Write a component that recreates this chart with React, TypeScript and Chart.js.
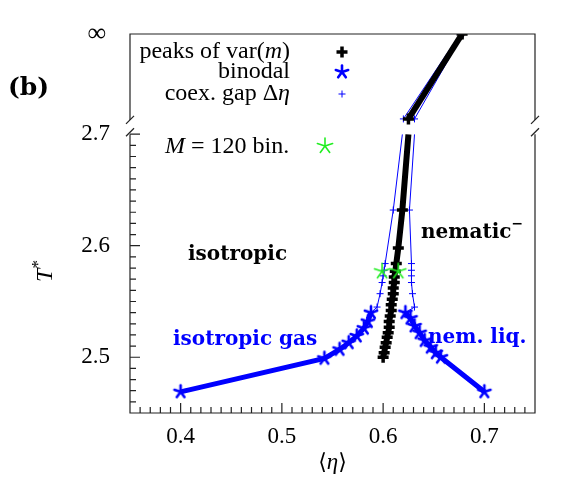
import React, { useEffect, useRef } from 'react';
import { Chart, registerables } from 'chart.js';

Chart.register(...registerables);

const SERIF = "'Liberation Serif', 'DejaVu Serif', serif";
const BOLD = "'DejaVu Serif', 'Liberation Serif', serif";
const BLUE = '#0000ff';
const GREEN = '#22ee22';

// Axis ticks
const etaTicks = [0.4, 0.5, 0.6, 0.7];
const tempTicks = [2.5, 2.6, 2.7];

// Peaks of var(m): <eta>, T*
const peaksEta = [0.600, 0.601, 0.602, 0.603, 0.604, 0.605, 0.606, 0.606, 0.607, 0.608, 0.608, 0.609, 0.610, 0.610, 0.611, 0.611, 0.612, 0.613, 0.615, 0.619, 0.625];
const peaksT = [2.500, 2.504, 2.509, 2.513, 2.518, 2.522, 2.527, 2.532, 2.537, 2.542, 2.547, 2.552, 2.557, 2.562, 2.567, 2.572, 2.577, 2.584, 2.598, 2.632, 2.700];

// Upper panel level: 0 = the 2.7 break level, 1 = T* -> infinity
const topLevels = [0, 1];
const peaksTopEta = [0.625, 0.678];
const gapLeftTopEta = [0.620, 0.676];
const gapRightTopEta = [0.631, 0.679];

// Binodal, isotropic gas branch
const gasEta = [0.400, 0.542, 0.557, 0.566, 0.574, 0.581, 0.585, 0.588];
const gasT = [2.469, 2.499, 2.507, 2.513, 2.519, 2.526, 2.532, 2.540];

// Binodal, nematic liquid branch
const liqEta = [0.622, 0.627, 0.631, 0.636, 0.641, 0.647, 0.652, 0.657, 0.700];
const liqT = [2.540, 2.535, 2.528, 2.522, 2.515, 2.509, 2.504, 2.500, 2.469];

// Coexistence gap boundaries
const gapLeftEta = [0.588, 0.594, 0.597, 0.599, 0.600, 0.601, 0.602, 0.610, 0.619];
const gapLeftT = [2.540, 2.545, 2.557, 2.567, 2.573, 2.578, 2.584, 2.632, 2.700];
const gapRightEta = [0.622, 0.631, 0.629, 0.628, 0.628, 0.628, 0.628, 0.626, 0.631];
const gapRightT = [2.540, 2.545, 2.557, 2.567, 2.573, 2.578, 2.584, 2.632, 2.700];

// M = 120 bins
const m120Eta = [0.599, 0.615];
const m120T = [2.577, 2.577];

const pts = (xs: number[], ys: number[]) => xs.map((x, i) => ({ x, y: ys[i] }));

function makeStar(color: string, r: number, lw: number): HTMLCanvasElement {
  const size = Math.ceil(2 * r + lw + 2);
  const c = document.createElement('canvas');
  c.width = size;
  c.height = size;
  const g = c.getContext('2d')!;
  g.strokeStyle = color;
  g.lineWidth = lw;
  g.lineCap = 'round';
  const cx = size / 2;
  for (let k = 0; k < 5; k++) {
    const a = -Math.PI / 2 + (k * 2 * Math.PI) / 5;
    g.beginPath();
    g.moveTo(cx, cx);
    g.lineTo(cx + r * Math.cos(a), cx + r * Math.sin(a));
    g.stroke();
  }
  return c;
}

type Part = { text: string; font: string; dy?: number };

function drawRich(ctx: CanvasRenderingContext2D, parts: Part[], x: number, y: number, align: 'left' | 'right' | 'center', color: string) {
  let w = 0;
  for (const p of parts) {
    ctx.font = p.font;
    w += ctx.measureText(p.text).width;
  }
  let cx = align === 'right' ? x - w : align === 'center' ? x - w / 2 : x;
  ctx.textAlign = 'left';
  ctx.textBaseline = 'middle';
  ctx.fillStyle = color;
  for (const p of parts) {
    ctx.font = p.font;
    ctx.fillText(p.text, cx, y + (p.dy || 0));
    cx += ctx.measureText(p.text).width;
  }
}

function drawPlus(ctx: CanvasRenderingContext2D, x: number, y: number, r: number, lw: number, color: string) {
  ctx.strokeStyle = color;
  ctx.lineWidth = lw;
  ctx.beginPath();
  ctx.moveTo(x - r, y);
  ctx.lineTo(x + r, y);
  ctx.moveTo(x, y - r);
  ctx.lineTo(x, y + r);
  ctx.stroke();
}

// Fixed axis box sizes, without the label overhang padding Chart.js adds
const fixWidth = (s: any) => {
  s.width = 130;
  s.paddingTop = 0;
  s.paddingBottom = 0;
  s.paddingLeft = 0;
  s.paddingRight = 0;
};
const fixHeight = (s: any) => {
  s.height = 75;
  s.paddingTop = 0;
  s.paddingBottom = 0;
  s.paddingLeft = 0;
  s.paddingRight = 0;
};

export default function App() {
  const ref = useRef<HTMLCanvasElement>(null);

  useEffect(() => {
    const canvas = ref.current!;
    const blueStar = makeStar(BLUE, 6.5, 2.6);
    const greenStar = makeStar(GREEN, 8, 1.6);

    const decor = {
      id: 'decor',
      afterDraw(chart: any) {
        const ctx: CanvasRenderingContext2D = chart.ctx;
        const xs = chart.scales.x;
        const yl = chart.scales.y;
        const yt = chart.scales.yTop;
        const L = xs.left;
        const R = xs.right;
        const B = yl.bottom;
        const lowTop = yl.top;
        const upTop = yt.top;
        const upBot = yt.getPixelForValue(0) + 1;

        ctx.save();
        ctx.strokeStyle = '#222';
        ctx.lineWidth = 1.2;
        ctx.lineCap = 'butt';
        // upper panel frame
        ctx.beginPath();
        ctx.moveTo(L, upBot);
        ctx.lineTo(L, upTop);
        ctx.lineTo(R, upTop);
        ctx.lineTo(R, upBot);
        ctx.stroke();
        // lower panel frame
        ctx.beginPath();
        ctx.moveTo(L, lowTop);
        ctx.lineTo(L, B);
        ctx.lineTo(R, B);
        ctx.lineTo(R, lowTop);
        ctx.stroke();
        // break marks
        for (const bx of [L, R]) {
          for (const by of [upBot, lowTop - 2]) {
            ctx.beginPath();
            ctx.moveTo(bx - 4, by + 4);
            ctx.lineTo(bx + 4, by - 4);
            ctx.stroke();
          }
        }
        // inward ticks
        ctx.beginPath();
        for (let k = 246; k <= 270; k++) {
          const py = yl.getPixelForValue(k / 100);
          const len = k % 10 === 0 ? 10 : 6;
          ctx.moveTo(L, py);
          ctx.lineTo(L + len, py);
        }
        for (let k = 36; k <= 74; k++) {
          const px = xs.getPixelForValue(k / 100);
          const len = k % 10 === 0 ? 10 : 6;
          ctx.moveTo(px, B);
          ctx.lineTo(px, B - len);
        }
        ctx.stroke();

        // axis titles
        ctx.save();
        ctx.translate(46, 271);
        ctx.rotate(-Math.PI / 2);
        drawRich(ctx, [
          { text: 'T', font: `italic 24px ${SERIF}` },
          { text: '*', font: `17px ${SERIF}`, dy: -7 },
        ], 0, 0, 'center', '#000');
        ctx.restore();
        drawRich(ctx, [
          { text: '⟨', font: `22px 'DejaVu Sans', ${SERIF}` },
          { text: 'η', font: `italic 23px ${SERIF}` },
          { text: '⟩', font: `22px 'DejaVu Sans', ${SERIF}` },
        ], (L + R) / 2, 463, 'center', '#000');

        // panel tag
        drawRich(ctx, [{ text: '(b)', font: `bold 25px ${BOLD}` }], 8, 88, 'left', '#000');

        // legend
        const reg = `24px ${SERIF}`;
        const ital = `italic 24px ${SERIF}`;
        drawRich(ctx, [
          { text: 'peaks of var(', font: reg },
          { text: 'm', font: ital },
          { text: ')', font: reg },
        ], 290, 52, 'right', '#000');
        drawRich(ctx, [{ text: 'binodal', font: reg }], 290, 72, 'right', '#000');
        drawRich(ctx, [
          { text: 'coex. gap Δ', font: reg },
          { text: 'η', font: ital },
        ], 290, 94, 'right', '#000');
        drawPlus(ctx, 342, 52, 5.5, 3.5, '#000');
        ctx.drawImage(blueStar, 342 - blueStar.width / 2, 72 - blueStar.height / 2);
        drawPlus(ctx, 342, 94, 3.5, 1, BLUE);

        // M = 120 key
        drawRich(ctx, [
          { text: 'M', font: ital },
          { text: ' = 120 bin.', font: reg },
        ], 165, 147, 'left', '#000');
        ctx.drawImage(greenStar, 325 - greenStar.width / 2, 146 - greenStar.height / 2);

        // region labels
        const bold = `bold 20px ${BOLD}`;
        drawRich(ctx, [{ text: 'isotropic', font: bold }], 188, 255, 'left', '#000');
        drawRich(ctx, [
          { text: 'nematic', font: bold },
          { text: '−', font: `bold 14px ${BOLD}`, dy: -9 },
        ], 421, 233, 'left', '#000');
        drawRich(ctx, [{ text: 'isotropic gas', font: bold }], 173, 340, 'left', BLUE);
        drawRich(ctx, [{ text: 'nem. liq.', font: bold }], 428, 338, 'left', BLUE);
        ctx.restore();
      },
    };

    const hideAtBreak = (c: any) => (c.raw && c.raw.y >= 2.7 ? 0 : undefined);

    const chart = new Chart(canvas, {
      type: 'scatter',
      data: {
        datasets: [
          {
            label: 'M = 120 bin.',
            data: pts(m120Eta, m120T),
            yAxisID: 'y',
            pointStyle: greenStar,
            showLine: false,
          },
          {
            label: 'peaks of var(m)',
            data: pts(peaksEta, peaksT),
            yAxisID: 'y',
            showLine: true,
            borderColor: '#000',
            borderWidth: 6,
            pointStyle: 'cross',
            pointRadius: (c: any) => hideAtBreak(c) ?? 5.5,
            pointBorderWidth: 3.5,
            pointBorderColor: '#000',
          },
          {
            label: 'peaks of var(m) (upper)',
            data: pts(peaksTopEta, topLevels),
            yAxisID: 'yTop',
            showLine: true,
            borderColor: '#000',
            borderWidth: 6,
            pointStyle: 'cross',
            pointRadius: 5.5,
            pointBorderWidth: 3.5,
            pointBorderColor: '#000',
          },
          {
            label: 'binodal gas',
            data: pts(gasEta, gasT),
            yAxisID: 'y',
            showLine: true,
            borderColor: BLUE,
            borderWidth: 5,
            pointStyle: blueStar,
          },
          {
            label: 'binodal liquid',
            data: pts(liqEta, liqT),
            yAxisID: 'y',
            showLine: true,
            borderColor: BLUE,
            borderWidth: 5,
            pointStyle: blueStar,
          },
          ...[
            [pts(gapLeftEta, gapLeftT), 'y'],
            [pts(gapRightEta, gapRightT), 'y'],
            [pts(gapLeftTopEta, topLevels), 'yTop'],
            [pts(gapRightTopEta, topLevels), 'yTop'],
          ].map(([d, axis]) => ({
            label: 'coex. gap',
            data: d as any,
            yAxisID: axis as string,
            showLine: true,
            borderColor: BLUE,
            borderWidth: 1,
            pointStyle: 'cross',
            pointRadius: (c: any) => hideAtBreak(c) ?? 3.5,
            pointBorderWidth: 1,
            pointBorderColor: BLUE,
          })),
        ] as any,
      },
      options: {
        responsive: false,
        animation: false,
        events: [],
        layout: { padding: { left: 0, right: 26, top: 34, bottom: 0 } },
        plugins: { legend: { display: false }, tooltip: { enabled: false } },
        scales: {
          x: {
            type: 'linear',
            position: 'bottom',
            min: 0.35,
            max: 0.75,
            afterBuildTicks: (s: any) => { s.ticks = etaTicks.map((v) => ({ value: v })); },
            afterFit: fixHeight,
            grid: { display: false, drawTicks: false },
            border: { display: false },
            ticks: {
              autoSkip: false,
              maxRotation: 0,
              padding: 10,
              color: '#000',
              font: { family: SERIF, size: 23 },
              callback: (v: any) => Number(v).toFixed(1),
            },
          },
          yTop: {
            type: 'linear',
            position: 'left',
            stack: 'T',
            stackWeight: 101,
            weight: 2,
            min: -0.18,
            max: 1,
            afterBuildTicks: (s: any) => { s.ticks = [{ value: 1 }]; },
            afterFit: fixWidth,
            grid: { display: false, drawTicks: false },
            border: { display: false },
            ticks: {
              autoSkip: false,
              padding: 24,
              color: '#000',
              font: { family: SERIF, size: 26 },
              callback: () => '∞',
            },
          },
          y: {
            type: 'linear',
            position: 'left',
            stack: 'T',
            stackWeight: 281,
            weight: 1,
            min: 2.45,
            max: 2.7,
            afterBuildTicks: (s: any) => { s.ticks = tempTicks.map((v) => ({ value: v })); },
            afterFit: fixWidth,
            grid: { display: false, drawTicks: false },
            border: { display: false },
            ticks: {
              autoSkip: false,
              padding: 20,
              color: '#000',
              font: { family: SERIF, size: 23 },
              callback: (v: any) => Number(v).toFixed(1),
            },
          },
        },
      } as any,
      plugins: [decor],
    });
    return () => chart.destroy();
  }, []);

  return (
    <div style={{ position: 'fixed', left: 0, top: 0, width: 561, height: 488, background: '#fff' }}>
      <canvas ref={ref} width={561} height={488} style={{ display: 'block' }} />
    </div>
  );
}
